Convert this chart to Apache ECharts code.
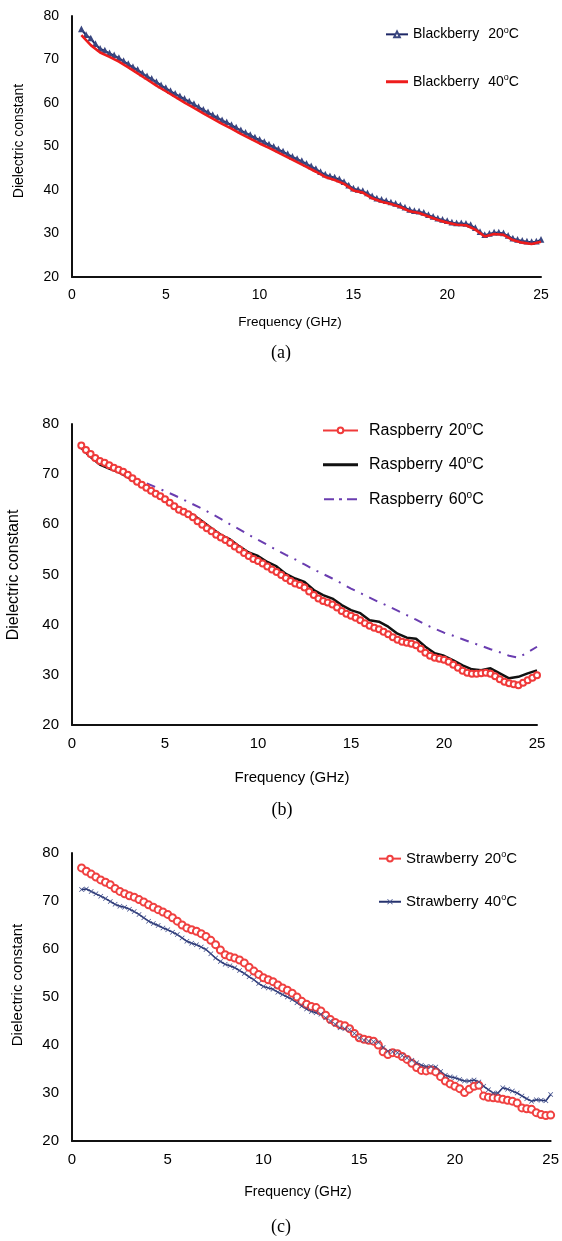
<!DOCTYPE html>
<html><head><meta charset="utf-8">
<script src="https://cdn.jsdelivr.net/npm/echarts@6/dist/echarts.min.js"></script>
<style>html,body{margin:0;padding:0;background:#fff}#c{width:562px;height:1241px}</style>
</head><body><div id="c"></div>
<script>
// Frequency samples (GHz)
var freqQ = [0.5,0.75,
1,1.25,1.5,1.75, 2,2.25,2.5,2.75, 3,3.25,3.5,3.75, 4,4.25,4.5,4.75, 5,5.25,5.5,5.75,
6,6.25,6.5,6.75, 7,7.25,7.5,7.75, 8,8.25,8.5,8.75, 9,9.25,9.5,9.75, 10,10.25,10.5,10.75,
11,11.25,11.5,11.75, 12,12.25,12.5,12.75, 13,13.25,13.5,13.75, 14,14.25,14.5,14.75, 15,15.25,15.5,15.75,
16,16.25,16.5,16.75, 17,17.25,17.5,17.75, 18,18.25,18.5,18.75, 19,19.25,19.5,19.75, 20,20.25,20.5,20.75,
21,21.25,21.5,21.75, 22,22.25,22.5,22.75, 23,23.25,23.5,23.75, 24,24.25,24.5,24.75, 25];
var freqH = [0.5,1,1.5,2,2.5,3,3.5,4,4.5,5,5.5,6,6.5,7,7.5,8,8.5,9,9.5,10,10.5,11,11.5,12,12.5,
13,13.5,14,14.5,15,15.5,16,16.5,17,17.5,18,18.5,19,19.5,20,20.5,21,21.5,22,22.5,23,23.5,24,24.5,25];

// (a) Blackberry
var blackberry20 = [76.9,75.6,
74.8,73.5,72.4,72.0, 71.4,70.9,70.3,69.6, 68.9,68.2,67.6,66.8, 66.1,65.5,64.8,64.0, 63.4,62.7,62.1,61.5,
60.9,60.3,59.7,59.0, 58.4,57.8,57.2,56.6, 56.0,55.5,54.9,54.3, 53.7,53.1,52.6,52.0, 51.5,51.0,50.4,49.9,
49.3,48.8,48.2,47.6, 47.1,46.6,46.0,45.4, 44.8,44.1,43.5,43.1, 42.8,42.4,41.8,41.0, 40.3,40.0,39.7,39.2,
38.5,38.0,37.7,37.4, 37.1,36.8,36.4,35.9, 35.4,35.1,35.0,34.7, 34.2,33.8,33.4,33.1, 32.8,32.5,32.3,32.3,
32.2,31.9,31.2,30.3, 29.6,29.9,30.2,30.2, 30.0,29.4,28.8,28.5, 28.3,28.1,28.0,28.1, 28.5];
var blackberry40 = [75.6,73.3,71.6,70.6,69.5,68.2,66.8,65.4,64.0,62.7,61.4,60.1,58.9,57.6,56.4,55.2,54.1,52.9,51.8,50.7,
49.7,48.6,47.5,46.4,45.3,44.2,43.0,42.3,41.4,39.9,39.4,38.1,37.3,36.8,36.1,35.1,34.7,33.9,33.1,32.5,
32.0,31.9,30.9,29.3,29.9,29.7,28.5,27.9,27.6,28.1];

// (b) Raspberry
var raspberry20 = [75.7,74.8,
74.0,73.2,72.6,72.3, 71.8,71.3,70.9,70.5, 69.9,69.2,68.5,67.9, 67.3,66.7,66.1,65.6, 65.0,64.3,63.6,62.9,
62.5,62.0,61.4,60.6, 59.9,59.2,58.6,57.9, 57.4,56.9,56.3,55.6, 55.0,54.3,53.7,53.1, 52.7,52.2,51.6,51.0,
50.5,49.9,49.3,48.7, 48.2,47.9,47.4,46.6, 45.9,45.2,44.7,44.4, 44.0,43.4,42.7,42.2, 41.8,41.4,40.9,40.3,
39.8,39.4,39.1,38.6, 38.1,37.5,37.0,36.6, 36.4,36.2,35.9,35.2, 34.4,33.8,33.4,33.2, 33.0,32.6,32.0,31.4,
30.8,30.4,30.2,30.2, 30.3,30.4,30.2,29.7, 29.1,28.6,28.3,28.1, 27.9,28.4,28.9,29.4, 29.9];
var raspberry40 = [75.2,73.4,71.9,71.1,70.4,69.4,68.2,67.1,66.1,65.2,63.9,62.8,61.9,60.6,59.2,57.9,57.0,55.6,54.4,53.7,
52.5,51.6,50.1,49.2,48.5,46.9,45.9,45.2,43.9,42.9,42.3,40.9,40.6,39.6,38.2,37.4,37.2,35.6,34.3,33.8,
32.9,31.9,31.1,30.9,31.3,30.3,29.3,29.6,30.3,30.9];
var raspberry60 = [75.2,73.6,72.4,71.3,70.4,69.6,68.9,68.2,67.4,66.6,65.8,64.9,64.0,63.1,62.1,61.1,60.0,59.0,57.9,56.9,
55.9,54.9,53.9,53.0,52.0,51.0,50.1,49.2,48.2,47.2,46.3,45.4,44.5,43.7,42.8,41.9,41.0,40.0,39.2,38.4,
37.8,37.1,36.4,35.8,35.1,34.5,33.8,33.4,34.5,35.6];

// (c) Strawberry
var strawberry20 = [76.9,76.2,
75.6,75.0,74.4,73.9, 73.4,72.6,72.0,71.5, 71.1,70.8,70.3,69.8, 69.2,68.7,68.2,67.7, 67.2,66.5,65.8,65.0,
64.4,64.0,63.7,63.2, 62.6,61.8,60.9,59.8, 58.8,58.4,58.1,57.7, 57.1,56.2,55.4,54.7, 54.0,53.6,53.2,52.5,
51.9,51.4,50.8,50.0, 49.1,48.5,48.0,47.8, 47.1,46.2,45.3,44.7, 44.2,44.0,43.4,42.4, 41.5,41.2,41.0,40.8,
40.0,38.6,38.0,38.4, 38.2,37.6,37.0,36.2, 35.3,34.7,34.6,34.8, 34.4,33.4,32.5,31.9, 31.4,30.9,30.1,30.8,
31.4,31.6,29.4,29.1, 29.0,28.9,28.7,28.5, 28.3,27.9,26.9,26.7, 26.6,25.9,25.5,25.3, 25.4];
var strawberry40 = [72.4,72.5,
72.0,71.5,71.0,70.5, 69.9,69.3,68.9,68.7, 68.3,67.8,67.2,66.5, 65.8,65.3,64.9,64.4, 64.0,63.5,63.0,62.3,
61.6,61.2,60.9,60.4, 59.9,59.0,58.1,57.4, 56.8,56.5,56.1,55.5, 54.9,54.2,53.6,52.8, 52.2,51.9,51.6,51.0,
50.5,50.0,49.5,48.8, 48.1,47.5,47.0,46.7, 46.4,45.7,45.0,44.3, 43.6,43.4,43.2,42.4, 41.5,41.0,40.8,40.7,
40.5,39.5,38.7,38.6, 38.4,37.8,37.3,36.8, 36.3,35.8,35.5,35.5, 35.4,34.5,33.7,33.4, 33.2,32.8,32.5,32.5,
32.7,32.3,31.4,30.7, 30.0,30.0,31.1,30.8, 30.4,30.0,29.4,28.8, 28.3,28.6,28.5,28.4, 29.7];

var xTicks = [0,5,10,15,20,25];
var yTicks = [20,30,40,50,60,70,80];

function pairs(xs, ys){ return ys.map(function(v,i){ return [xs[i], v]; }); }

var FONT = "'Liberation Sans', Arial, sans-serif";
var SERIF = "'Liberation Serif', 'Times New Roman', serif";
var grids = [
  {left:72, top:16, width:469, height:261},
  {left:72, top:424, width:465, height:301},
  {left:72, top:853, width:480, height:288}
];
var labelSize = [14, 15, 15];

function xAxis(i){
  return {gridIndex:i, type:'value', min:xTicks[0], max:xTicks[xTicks.length-1], interval:5,
    axisLine:{show:true, lineStyle:{color:'#111', width:2}}, axisTick:{show:false}, splitLine:{show:false},
    axisLabel:{color:'#000', fontFamily:FONT, fontSize:labelSize[i], margin:11}};
}
function yAxis(i){
  return {gridIndex:i, type:'value', min:yTicks[0], max:yTicks[yTicks.length-1], interval:10,
    axisLine:{show:true, lineStyle:{color:'#111', width:2}}, axisTick:{show:false}, splitLine:{show:false},
    axisLabel:{color:'#000', fontFamily:FONT, fontSize:labelSize[i], margin:13}};
}

function legendFmt(name){
  var parts = name.split(' ');
  var t = parts[1].replace('C','');
  return '{n|' + parts[0] + '}{sp| }{n|' + t + '}{s|o}{n|C}';
}
function legendRich(fs, spw){
  return {
    n:{fontFamily:FONT, fontSize:fs, color:'#000'},
    sp:{fontFamily:FONT, fontSize:fs, color:'#000', width: spw},
    s:{fontFamily:FONT, fontSize:Math.round(fs*0.62), color:'#000', verticalAlign:'top', padding:[0,0,fs*0.55,0]}
  };
}
function lineIcon(w, y0, y1){
  return 'path://M0,0L0.01,0L0,0.01Z M0,' + y0 + 'L' + w + ',' + y0 + 'L' + w + ',' + y1 + 'L0,' + y1 + 'Z M' + w + ',7L' + (w-0.01) + ',7L' + w + ',6.99Z';
}
var dashDotIcon = 'path://M0,0L0.01,0L0,0.01Z M1,2.5L11,2.5L11,4.5L1,4.5Z M16,2.5L19,2.5L19,4.5L16,4.5Z M24,2.5L34,2.5L34,4.5L24,4.5Z M35,7L34.99,7L35,6.99Z';

var chart = echarts.init(document.getElementById('c'), null, {renderer:'canvas'});
var option = {
  backgroundColor:'#fff',
  animation:false,
  grid: grids,
  xAxis:[xAxis(0), xAxis(1), xAxis(2)],
  yAxis:[yAxis(0), yAxis(1), yAxis(2)],
  legend:[
    {data:[{name:'Blackberry 20C'},
           {name:'Blackberry 40C', icon:lineIcon(22,2,5), itemStyle:{borderWidth:0}}],
     orient:'vertical', left:385, top:26, padding:0, itemWidth:22, itemHeight:7, itemGap:32,
     formatter:legendFmt, textStyle:{rich:legendRich(14, 9)}},
    {data:[{name:'Raspberry 20C'},
           {name:'Raspberry 40C', icon:lineIcon(35,2,5), itemStyle:{borderWidth:0}},
           {name:'Raspberry 60C', icon:dashDotIcon, itemStyle:{borderWidth:0}}],
     orient:'vertical', left:322, top:421, padding:0, itemWidth:35, itemHeight:7, itemGap:17,
     formatter:legendFmt, textStyle:{rich:legendRich(16, 6), padding:[0,0,0,6]}},
    {data:[{name:'Strawberry 20C'},{name:'Strawberry 40C'}],
     orient:'vertical', left:378, top:850, padding:0, itemWidth:22, itemHeight:7, itemGap:27,
     formatter:legendFmt, textStyle:{rich:legendRich(15, 6)}}
  ],
  series:[
    {name:'Blackberry 20C', type:'line', xAxisIndex:0, yAxisIndex:0, data:pairs(freqQ, blackberry20),
     symbol:'emptyTriangle', symbolSize:3.5, showAllSymbol:true, z:2,
     lineStyle:{color:'#1d2766', width:2}, itemStyle:{color:'#3a4780', borderWidth:1}},
    {name:'Blackberry 40C', type:'line', xAxisIndex:0, yAxisIndex:0, data:pairs(freqH, blackberry40),
     symbol:'none', z:4, lineStyle:{color:'#ee1c1c', width:2.6}, itemStyle:{color:'#ee1c1c'}},

    {name:'Raspberry 20C', type:'line', xAxisIndex:1, yAxisIndex:1, data:pairs(freqQ, raspberry20),
     symbol:'emptyCircle', symbolSize:6, showAllSymbol:true,
     lineStyle:{color:'#f03a3a', width:1}, itemStyle:{color:'#f03a3a', borderWidth:1.2}},
    {name:'Raspberry 40C', type:'line', xAxisIndex:1, yAxisIndex:1, data:pairs(freqH, raspberry40),
     symbol:'none', lineStyle:{color:'#111', width:2.5}, itemStyle:{color:'#111'}},
    {name:'Raspberry 60C', type:'line', xAxisIndex:1, yAxisIndex:1, data:pairs(freqH, raspberry60),
     symbol:'none', lineStyle:{color:'#6a3db0', width:2, type:[9,7,2,7]}, itemStyle:{color:'#6a3db0'}},

    {name:'Strawberry 20C', type:'line', xAxisIndex:2, yAxisIndex:2, data:pairs(freqQ, strawberry20),
     symbol:'emptyCircle', symbolSize:7, showAllSymbol:true,
     lineStyle:{color:'#f04040', width:1.2}, itemStyle:{color:'#f04040', borderWidth:1.3}},
    {name:'Strawberry 40C', type:'line', xAxisIndex:2, yAxisIndex:2, data:pairs(freqQ, strawberry40),
     symbol:'path://M0,1L1,0L5,4L9,0L10,1L6,5L10,9L9,10L5,6L1,10L0,9L4,5Z', symbolSize:5, showAllSymbol:true,
     lineStyle:{color:'#26336e', width:1.5}, itemStyle:{color:'#3e4c8a'}}
  ],
  graphic:[
    {type:'text', x:19, y:141, rotation:Math.PI/2, style:{text:'Dielectric constant', fontFamily:FONT, fontSize:14, fill:'#000', align:'center', verticalAlign:'middle'}},
    {type:'text', x:290, y:322, style:{text:'Frequency (GHz)', fontFamily:FONT, fontSize:13.5, fill:'#000', align:'center', verticalAlign:'middle'}},
    {type:'text', x:281, y:353, style:{text:'(a)', fontFamily:SERIF, fontSize:18, fill:'#000', align:'center', verticalAlign:'middle'}},

    {type:'text', x:14, y:575, rotation:Math.PI/2, style:{text:'Dielectric constant', fontFamily:FONT, fontSize:16, fill:'#000', align:'center', verticalAlign:'middle'}},
    {type:'text', x:292, y:778, style:{text:'Frequency (GHz)', fontFamily:FONT, fontSize:15, fill:'#000', align:'center', verticalAlign:'middle'}},
    {type:'text', x:282, y:810, style:{text:'(b)', fontFamily:SERIF, fontSize:18, fill:'#000', align:'center', verticalAlign:'middle'}},

    {type:'text', x:18, y:985, rotation:Math.PI/2, style:{text:'Dielectric constant', fontFamily:FONT, fontSize:15, fill:'#000', align:'center', verticalAlign:'middle'}},
    {type:'text', x:298, y:1192, style:{text:'Frequency (GHz)', fontFamily:FONT, fontSize:14, fill:'#000', align:'center', verticalAlign:'middle'}},
    {type:'text', x:281, y:1227, style:{text:'(c)', fontFamily:SERIF, fontSize:18, fill:'#000', align:'center', verticalAlign:'middle'}}
  ]
};
chart.setOption(option);
</script>
</body></html>
